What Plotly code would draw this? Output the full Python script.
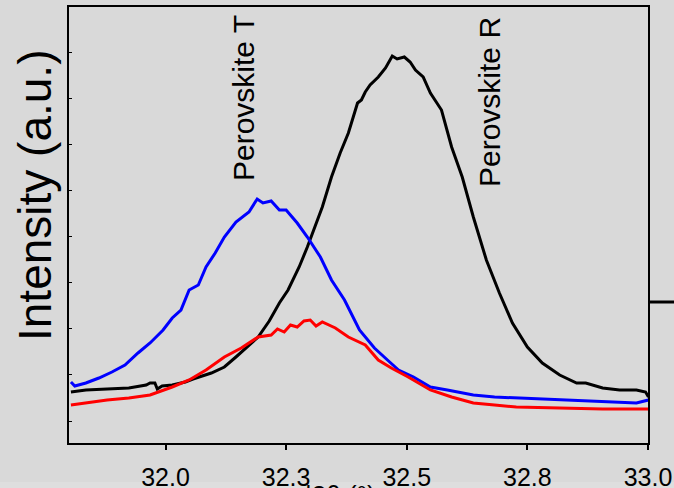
import plotly.graph_objects as go

# 2-theta (degrees) and intensity (a.u.)
r_x = [31.804, 31.835, 31.879, 31.924, 31.960, 31.968, 31.978, 31.983, 31.993, 32.014, 32.041, 32.057,
       32.095, 32.122, 32.146, 32.169, 32.192, 32.215, 32.236, 32.254, 32.277, 32.294, 32.312, 32.325,
       32.344, 32.362, 32.379, 32.398, 32.406, 32.414, 32.424, 32.441, 32.456, 32.470, 32.480, 32.495,
       32.507, 32.518, 32.534, 32.549, 32.572, 32.593, 32.615, 32.638, 32.665, 32.692, 32.719, 32.750,
       32.781, 32.817, 32.852, 32.871, 32.906, 32.941, 32.976, 32.995, 33.001]
r_y = [51, 53, 54, 55, 58, 60, 60, 54, 57, 58, 61, 64,
       70, 76, 86, 96, 106, 122, 140, 153, 176, 196, 220, 236,
       266, 290, 310, 340, 343, 351, 358, 366, 375, 387, 384, 386,
       381, 373, 366, 350, 333, 296, 266, 226, 183, 150, 120, 96,
       80, 68, 60, 60, 55, 53, 53, 51, 46]

t_x = [31.804, 31.812, 31.835, 31.862, 31.889, 31.916, 31.943, 31.968, 31.995, 32.014, 32.032, 32.049,
       32.068, 32.084, 32.103, 32.122, 32.146, 32.173, 32.190, 32.202, 32.219, 32.236, 32.250, 32.273,
       32.294, 32.321, 32.344, 32.371, 32.402, 32.433, 32.460, 32.483, 32.514, 32.549, 32.584, 32.638,
       32.682, 32.727, 32.817, 32.906, 32.976, 33.001]
t_y = [61, 57, 60, 65, 71, 78, 90, 100, 113, 125, 133, 153,
       158, 176, 190, 206, 221, 231, 244, 240, 242, 233, 233, 220,
       206, 186, 163, 143, 113, 95, 83, 73, 66, 56, 53, 48,
       46, 45, 43, 41, 40, 43]

m_x = [31.804, 31.835, 31.879, 31.924, 31.968, 32.014, 32.049, 32.084, 32.122, 32.157, 32.192, 32.219,
       32.232, 32.246, 32.259, 32.273, 32.287, 32.300, 32.312, 32.325, 32.352, 32.379, 32.414, 32.441,
       32.468, 32.503, 32.549, 32.593, 32.638, 32.682, 32.727, 32.817, 32.906, 33.001]
m_y = [38, 40, 43, 45, 48, 56, 63, 73, 86, 95, 106, 108,
       114, 111, 118, 116, 122, 123, 117, 121, 115, 106, 98, 83,
       75, 66, 53, 46, 40, 38, 36, 35, 34, 34]

x_tickvals = [32.0, 32.25, 32.5, 32.75, 33.0]
x_ticktext = ["32.0", "32.3", "32.5", "32.8", "33.0"]

W, H = 674, 488
L, R, T, B = 69, 26, 7, 45
PW, PH = W - L - R, H - T - B

fig = go.Figure()
fig.add_trace(go.Scatter(x=r_x, y=r_y, mode="lines", line=dict(color="black", width=3), showlegend=False))
fig.add_trace(go.Scatter(x=t_x, y=t_y, mode="lines", line=dict(color="#0000ff", width=3), showlegend=False))
fig.add_trace(go.Scatter(x=m_x, y=m_y, mode="lines", line=dict(color="#ff0000", width=3), showlegend=False))

font = "Liberation Sans, Arial, sans-serif"
fig.update_layout(
    width=W, height=H, autosize=False,
    margin=dict(l=L, r=R, t=T, b=B, autoexpand=False),
    paper_bgcolor="#d9d9d9", plot_bgcolor="#d9d9d9",
    font=dict(family=font, color="black"),
    xaxis=dict(range=[31.8, 33.0], tickvals=x_tickvals, ticktext=x_ticktext,
               ticks="outside", ticklen=5, tickwidth=2, tickcolor="black",
               tickfont=dict(size=25, family=font), ticklabelstandoff=6,
               showline=True, linecolor="black", linewidth=2, mirror=True,
               showgrid=False, zeroline=False, automargin=False),
    yaxis=dict(range=[0, 436], tick0=22, dtick=46.1, ticks="inside", ticklen=3,
               tickwidth=1, tickcolor="black", showticklabels=False,
               showline=True, linecolor="black", linewidth=2, mirror=True,
               showgrid=False, zeroline=False, automargin=False),
)

fig.add_annotation(text="Intensity (a.u.)", xref="paper", yref="paper",
                   x=(35 - L) / PW, y=(443 - 196) / PH, textangle=-90, showarrow=False,
                   font=dict(size=46, family=font), xanchor="center", yanchor="middle")
fig.add_annotation(text="Perovskite T", xref="paper", yref="paper",
                   x=(243 - L) / PW, y=(443 - 98) / PH, textangle=-90, showarrow=False,
                   font=dict(size=30, family=font), xanchor="center", yanchor="middle")
fig.add_annotation(text="Perovskite R", xref="paper", yref="paper",
                   x=(490 - L) / PW, y=(443 - 102) / PH, textangle=-90, showarrow=False,
                   font=dict(size=30, family=font), xanchor="center", yanchor="middle")
# axis title, cut by the bottom edge as in the reference
fig.add_annotation(text="|2θ (°)", xref="paper", yref="paper",
                   x=(303 - L) / PW, y=(443 - 478) / PH, showarrow=False,
                   font=dict(size=26, family=font), xanchor="left", yanchor="top")

# lighter strip at bottom and stub line of neighbouring panel (kept inside the page)
fig.add_shape(type="rect", xref="paper", yref="paper", x0=-L / PW, x1=1 + R / PW,
              y0=(443 - 482) / PH, y1=-B / PH, fillcolor="#dedede", line=dict(width=0), layer="below")
fig.add_shape(type="line", xref="paper", yref="paper", x0=1, x1=1 + R / PW,
              y0=(443 - 302) / PH, y1=(443 - 302) / PH, line=dict(color="black", width=3))

post = (
    "document.body.style.margin='0';"
    "document.body.style.overflow='hidden';"
    "document.getElementById('{plot_id}').style.overflow='hidden';"
)
fig.write_html("out.html", config={"responsive": False, "displayModeBar": False}, post_script=post)
